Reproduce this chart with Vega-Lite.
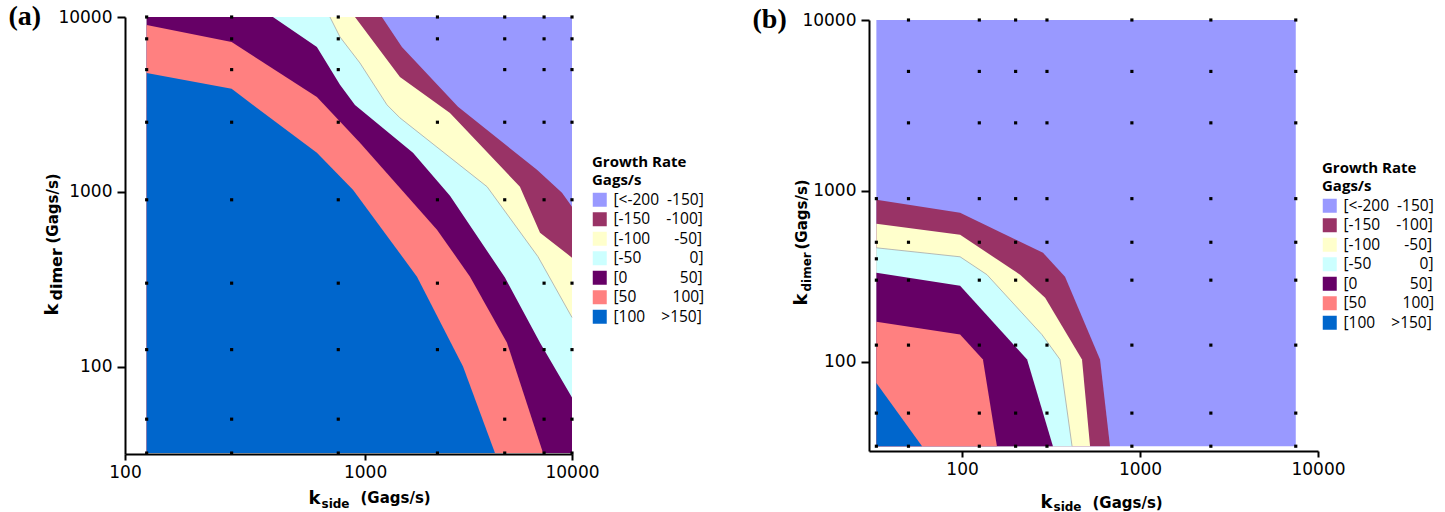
{
  "$schema": "https://vega.github.io/schema/vega-lite/v6.json",
  "background": "white",
  "padding": {"left": 8, "top": 2, "right": 0, "bottom": 0},
  "bounds": "flush",
  "spacing": 297,
  "config": {
    "view": {"stroke": null},
    "axis": {"grid": false, "domainColor": "black", "domainWidth": 2, "tickColor": "black", "tickWidth": 2, "labelFont": "DejaVu Sans", "labelFontSize": 17, "labelColor": "black", "labelFlush": false, "labelOverlap": false, "titleFont": "DejaVu Sans", "titleFontWeight": "bold", "titleColor": "black", "titleAlign": "left", "titleBaseline": "alphabetic"},
    "legend": {"orient": "none", "titleFont": "Open Sans", "titleFontSize": 15, "titleFontWeight": "bold", "titleLineHeight": 18, "titleColor": "black", "titlePadding": 4, "labelFont": "Open Sans", "labelFontSize": 15.5, "labelColor": "black", "labelOffset": 6, "symbolType": "square", "symbolSize": 196, "symbolStrokeWidth": 0, "rowPadding": 2.5, "padding": 0, "labelLimit": 300}
  },
  "datasets": {
    "a_bands": [
      {"band": "[<-200 -150]", "x": 125, "y": 10000}, {"band": "[<-200 -150]", "x": 10000, "y": 10000},
      {"band": "[-150 -100]", "x": 125, "y": 10000}, {"band": "[-150 -100]", "x": 1411, "y": 10000}, {"band": "[-150 -100]", "x": 1734, "y": 6737}, {"band": "[-150 -100]", "x": 3090, "y": 3062}, {"band": "[-150 -100]", "x": 6970, "y": 1336}, {"band": "[-150 -100]", "x": 9019, "y": 986}, {"band": "[-150 -100]", "x": 10000, "y": 820},
      {"band": "[-100 -50]", "x": 125, "y": 10000}, {"band": "[-100 -50]", "x": 1069, "y": 10000}, {"band": "[-100 -50]", "x": 1699, "y": 4541}, {"band": "[-100 -50]", "x": 2845, "y": 2827}, {"band": "[-100 -50]", "x": 5848, "y": 1069}, {"band": "[-100 -50]", "x": 7194, "y": 583}, {"band": "[-100 -50]", "x": 10000, "y": 420},
      {"band": "[-50 0]", "x": 125, "y": 10000}, {"band": "[-50 0]", "x": 826, "y": 10000}, {"band": "[-50 0]", "x": 916, "y": 7688}, {"band": "[-50 0]", "x": 1125, "y": 5458}, {"band": "[-50 0]", "x": 1487, "y": 3141}, {"band": "[-50 0]", "x": 1699, "y": 2648}, {"band": "[-50 0]", "x": 4169, "y": 1069}, {"band": "[-50 0]", "x": 7046, "y": 425}, {"band": "[-50 0]", "x": 10000, "y": 191},
      {"band": "[0 50]", "x": 125, "y": 10000}, {"band": "[0 50]", "x": 459, "y": 10000}, {"band": "[0 50]", "x": 722, "y": 6737}, {"band": "[0 50]", "x": 916, "y": 4100}, {"band": "[0 50]", "x": 1069, "y": 3141}, {"band": "[0 50]", "x": 1943, "y": 1670}, {"band": "[0 50]", "x": 2845, "y": 950}, {"band": "[0 50]", "x": 5012, "y": 323}, {"band": "[0 50]", "x": 7194, "y": 137}, {"band": "[0 50]", "x": 10000, "y": 66.5},
      {"band": "[50 100]", "x": 125, "y": 9000}, {"band": "[50 100]", "x": 300, "y": 7196}, {"band": "[50 100]", "x": 722, "y": 3491}, {"band": "[50 100]", "x": 1125, "y": 1905}, {"band": "[50 100]", "x": 2488, "y": 607}, {"band": "[50 100]", "x": 3497, "y": 327}, {"band": "[50 100]", "x": 5117, "y": 137}, {"band": "[50 100]", "x": 7420, "y": 32},
      {"band": "[100 >150]", "x": 125, "y": 4786}, {"band": "[100 >150]", "x": 300, "y": 3880}, {"band": "[100 >150]", "x": 374, "y": 3141}, {"band": "[100 >150]", "x": 722, "y": 1670}, {"band": "[100 >150]", "x": 1047, "y": 1027}, {"band": "[100 >150]", "x": 2025, "y": 327}, {"band": "[100 >150]", "x": 3254, "y": 100}, {"band": "[100 >150]", "x": 4522, "y": 32}
    ],
    "b_bands": [
      {"band": "[<-200 -150]", "x": 33, "y": 10000}, {"band": "[<-200 -150]", "x": 7500, "y": 10000},
      {"band": "[-150 -100]", "x": 33, "y": 886}, {"band": "[-150 -100]", "x": 97.5, "y": 744}, {"band": "[-150 -100]", "x": 285, "y": 434}, {"band": "[-150 -100]", "x": 379, "y": 314}, {"band": "[-150 -100]", "x": 596, "y": 103}, {"band": "[-150 -100]", "x": 678, "y": 32},
      {"band": "[-100 -50]", "x": 33, "y": 641}, {"band": "[-100 -50]", "x": 97.5, "y": 553}, {"band": "[-100 -50]", "x": 212, "y": 323}, {"band": "[-100 -50]", "x": 293, "y": 237}, {"band": "[-100 -50]", "x": 472, "y": 103}, {"band": "[-100 -50]", "x": 524, "y": 32},
      {"band": "[-50 0]", "x": 33, "y": 464}, {"band": "[-50 0]", "x": 97.5, "y": 411}, {"band": "[-50 0]", "x": 138, "y": 323}, {"band": "[-50 0]", "x": 281, "y": 144}, {"band": "[-50 0]", "x": 355, "y": 103}, {"band": "[-50 0]", "x": 415, "y": 32},
      {"band": "[0 50]", "x": 33, "y": 331}, {"band": "[0 50]", "x": 97.5, "y": 278}, {"band": "[0 50]", "x": 232, "y": 103}, {"band": "[0 50]", "x": 324, "y": 32},
      {"band": "[50 100]", "x": 33, "y": 171}, {"band": "[50 100]", "x": 97.5, "y": 144}, {"band": "[50 100]", "x": 131, "y": 103}, {"band": "[50 100]", "x": 157, "y": 32},
      {"band": "[100 >150]", "x": 33, "y": 75}, {"band": "[100 >150]", "x": 59.6, "y": 32}
    ],
    "a_dots": [
      {"x": 125, "y": 32}, {"x": 125, "y": 50}, {"x": 125, "y": 125}, {"x": 125, "y": 300}, {"x": 125, "y": 900}, {"x": 125, "y": 2500}, {"x": 125, "y": 5000}, {"x": 125, "y": 7500}, {"x": 125, "y": 10000},
      {"x": 300, "y": 32}, {"x": 300, "y": 50}, {"x": 300, "y": 125}, {"x": 300, "y": 300}, {"x": 300, "y": 900}, {"x": 300, "y": 2500}, {"x": 300, "y": 5000}, {"x": 300, "y": 7500}, {"x": 300, "y": 10000},
      {"x": 900, "y": 32}, {"x": 900, "y": 50}, {"x": 900, "y": 125}, {"x": 900, "y": 300}, {"x": 900, "y": 900}, {"x": 900, "y": 2500}, {"x": 900, "y": 5000}, {"x": 900, "y": 7500}, {"x": 900, "y": 10000},
      {"x": 2500, "y": 32}, {"x": 2500, "y": 125}, {"x": 2500, "y": 300}, {"x": 2500, "y": 900}, {"x": 2500, "y": 2500}, {"x": 2500, "y": 7500}, {"x": 2500, "y": 10000},
      {"x": 5000, "y": 32}, {"x": 5000, "y": 50}, {"x": 5000, "y": 125}, {"x": 5000, "y": 300}, {"x": 5000, "y": 900}, {"x": 5000, "y": 2500}, {"x": 5000, "y": 5000}, {"x": 5000, "y": 7500}, {"x": 5000, "y": 10000},
      {"x": 7500, "y": 32}, {"x": 7500, "y": 50}, {"x": 7500, "y": 125}, {"x": 7500, "y": 300}, {"x": 7500, "y": 900}, {"x": 7500, "y": 2500}, {"x": 7500, "y": 5000}, {"x": 7500, "y": 7500}, {"x": 7500, "y": 10000},
      {"x": 10000, "y": 32}, {"x": 10000, "y": 50}, {"x": 10000, "y": 125}, {"x": 10000, "y": 300}, {"x": 10000, "y": 900}, {"x": 10000, "y": 2500}, {"x": 10000, "y": 5000}, {"x": 10000, "y": 7500}, {"x": 10000, "y": 10000}
    ],
    "b_dots": [
      {"x": 33, "y": 32}, {"x": 50, "y": 32}, {"x": 125, "y": 32}, {"x": 200, "y": 32}, {"x": 300, "y": 32}, {"x": 900, "y": 32}, {"x": 2500, "y": 32}, {"x": 7500, "y": 32},
      {"x": 33, "y": 50}, {"x": 50, "y": 50}, {"x": 125, "y": 50}, {"x": 200, "y": 50}, {"x": 300, "y": 50}, {"x": 900, "y": 50}, {"x": 2500, "y": 50}, {"x": 7500, "y": 50},
      {"x": 33, "y": 125}, {"x": 50, "y": 125}, {"x": 125, "y": 125}, {"x": 200, "y": 125}, {"x": 300, "y": 125}, {"x": 900, "y": 125}, {"x": 2500, "y": 125}, {"x": 7500, "y": 125},
      {"x": 33, "y": 300}, {"x": 50, "y": 300}, {"x": 125, "y": 300}, {"x": 200, "y": 300}, {"x": 300, "y": 300}, {"x": 900, "y": 300}, {"x": 2500, "y": 300}, {"x": 7500, "y": 300},
      {"x": 33, "y": 400},
      {"x": 33, "y": 500}, {"x": 50, "y": 500}, {"x": 125, "y": 500}, {"x": 200, "y": 500}, {"x": 300, "y": 500}, {"x": 900, "y": 500}, {"x": 2500, "y": 500}, {"x": 7500, "y": 500},
      {"x": 33, "y": 900}, {"x": 50, "y": 900}, {"x": 125, "y": 900}, {"x": 200, "y": 900}, {"x": 300, "y": 900}, {"x": 900, "y": 900}, {"x": 2500, "y": 900}, {"x": 7500, "y": 900},
      {"x": 50, "y": 2500}, {"x": 125, "y": 2500}, {"x": 200, "y": 2500}, {"x": 300, "y": 2500}, {"x": 900, "y": 2500}, {"x": 2500, "y": 2500}, {"x": 7500, "y": 2500},
      {"x": 50, "y": 5000}, {"x": 125, "y": 5000}, {"x": 200, "y": 5000}, {"x": 300, "y": 5000}, {"x": 900, "y": 5000}, {"x": 2500, "y": 5000}, {"x": 7500, "y": 5000},
      {"x": 50, "y": 10000}, {"x": 125, "y": 10000}, {"x": 200, "y": 10000}, {"x": 300, "y": 10000}, {"x": 900, "y": 10000}, {"x": 2500, "y": 10000}, {"x": 7500, "y": 10000}
    ]
  },
  "hconcat": [
    {
      "width": 447,
      "height": 437,
      "layer": [
        {
          "data": {"name": "a_bands"},
          "mark": {"type": "area", "opacity": 1, "strokeWidth": 0},
          "encoding": {
            "x": {"field": "x", "type": "quantitative", "scale": {"type": "log", "domain": [100, 10000], "nice": false},
              "axis": {"orient": "bottom", "values": [100, 1186, 10000], "labelExpr": "datum.value > 1100 && datum.value < 1300 ? '1000' : format(datum.value, 'd')", "tickSize": 6, "labelPadding": 4, "title": "k", "titleX": 183, "titleY": 49, "titleFontSize": 18}},
            "y": {"field": "y", "type": "quantitative", "stack": null, "scale": {"type": "log", "domain": [31.6, 10000], "nice": false},
              "axis": {"orient": "left", "values": [100, 1000, 10000], "format": "d", "tickSize": 8, "labelPadding": 5, "title": "k", "titleX": -68, "titleY": 298, "titleFontSize": 18}},
            "y2": {"datum": 32},
            "color": {"field": "band", "type": "nominal",
              "scale": {"domain": ["[<-200 -150]", "[-150 -100]", "[-100 -50]", "[-50 0]", "[0 50]", "[50 100]", "[100 >150]"], "range": ["#9999FF", "#993366", "#FFFFCC", "#CCFFFF", "#660066", "#FF8080", "#0066CC"]},
              "legend": {"title": ["Growth Rate", "Gags/s"], "legendX": 467, "legendY": 138,
                "labelExpr": "datum.label == '[<-200 -150]' ? '[<-200\u00a0\u00a0-150]' : datum.label == '[-150 -100]' ? '[-150\u00a0\u00a0\u00a0\u00a0-100]' : datum.label == '[-100 -50]' ? '[-100\u00a0\u00a0\u00a0\u00a0\u00a0\u00a0-50]' : datum.label == '[-50 0]' ? '[-50\u00a0\u00a0\u00a0\u00a0\u00a0\u00a0\u00a0\u00a0\u00a0\u00a0\u00a0\u00a00]' : datum.label == '[0 50]' ? '[0\u00a0\u00a0\u00a0\u00a0\u00a0\u00a0\u00a0\u00a0\u00a0\u00a0\u00a0\u00a0\u00a050]' : datum.label == '[50 100]' ? '[50\u00a0\u00a0\u00a0\u00a0\u00a0\u00a0\u00a0\u00a0\u00a0100]' : '[100\u00a0\u00a0\u00a0\u00a0>150]'"}}
          }
        },
        {
          "data": {"name": "a_bands"},
          "transform": [{"filter": "datum.band == '[-50 0]' && datum.x > 125"}],
          "mark": {"type": "line", "color": "#a8a8a8", "strokeWidth": 0.8},
          "encoding": {
            "x": {"field": "x", "type": "quantitative", "axis": {"orient": "bottom", "domain": false, "ticks": false, "labels": false, "title": "side", "titleX": 196, "titleY": 53, "titleFontSize": 12}},
            "y": {"field": "y", "type": "quantitative", "axis": {"orient": "left", "domain": false, "ticks": false, "labels": false, "title": "dimer", "titleX": -64, "titleY": 283, "titleFontSize": 16}}
          }
        },
        {
          "data": {"name": "a_dots"},
          "mark": {"type": "square", "size": 10, "color": "black", "opacity": 1},
          "encoding": {
            "x": {"field": "x", "type": "quantitative", "axis": {"orient": "bottom", "domain": false, "ticks": false, "labels": false, "title": "(Gags/s)", "titleX": 235, "titleY": 48, "titleFontSize": 15}},
            "y": {"field": "y", "type": "quantitative", "axis": {"orient": "left", "domain": false, "ticks": false, "labels": false, "title": "(Gags/s)", "titleX": -68, "titleY": 226, "titleFontSize": 15}}
          }
        },
        {
          "data": {"name": "a_dots"},
          "mark": {"type": "point", "opacity": 0},
          "encoding": {
            "x": {"field": "x", "type": "quantitative", "axis": null},
            "y": {"field": "y", "type": "quantitative", "axis": {"orient": "left", "domain": false, "ticks": false, "labels": false, "title": "(a)", "titleX": -117, "titleY": -15, "titleAngle": 0, "titleBaseline": "top", "titleFont": "Liberation Serif", "titleFontSize": 28}}
          }
        }
      ],
      "resolve": {"axis": {"x": "independent", "y": "independent"}}
    },
    {
      "width": 449,
      "height": 434,
      "layer": [
        {
          "data": {"name": "b_bands"},
          "mark": {"type": "area", "opacity": 1, "strokeWidth": 0},
          "encoding": {
            "x": {"field": "x", "type": "quantitative", "scale": {"type": "log", "domain": [30, 10000], "nice": false},
              "axis": {"orient": "bottom", "values": [100, 1000, 10000], "format": "d", "tickSize": 6, "labelPadding": 4, "title": "k", "titleX": 171, "titleY": 56, "titleFontSize": 18}},
            "y": {"field": "y", "type": "quantitative", "stack": null, "scale": {"type": "log", "domain": [30, 10000], "nice": false, "range": [434, 3]},
              "axis": {"orient": "left", "values": [100, 1000, 10000], "format": "d", "tickSize": 8, "labelPadding": 5, "title": "k", "titleX": -63, "titleY": 288, "titleFontSize": 18}},
            "y2": {"datum": 32},
            "color": {"field": "band", "type": "nominal",
              "scale": {"domain": ["[<-200 -150]", "[-150 -100]", "[-100 -50]", "[-50 0]", "[0 50]", "[50 100]", "[100 >150]"], "range": ["#9999FF", "#993366", "#FFFFCC", "#CCFFFF", "#660066", "#FF8080", "#0066CC"]},
              "legend": {"title": ["Growth Rate", "Gags/s"], "legendX": 453, "legendY": 144,
                "labelExpr": "datum.label == '[<-200 -150]' ? '[<-200\u00a0\u00a0-150]' : datum.label == '[-150 -100]' ? '[-150\u00a0\u00a0\u00a0\u00a0-100]' : datum.label == '[-100 -50]' ? '[-100\u00a0\u00a0\u00a0\u00a0\u00a0\u00a0-50]' : datum.label == '[-50 0]' ? '[-50\u00a0\u00a0\u00a0\u00a0\u00a0\u00a0\u00a0\u00a0\u00a0\u00a0\u00a0\u00a00]' : datum.label == '[0 50]' ? '[0\u00a0\u00a0\u00a0\u00a0\u00a0\u00a0\u00a0\u00a0\u00a0\u00a0\u00a0\u00a0\u00a050]' : datum.label == '[50 100]' ? '[50\u00a0\u00a0\u00a0\u00a0\u00a0\u00a0\u00a0\u00a0\u00a0100]' : '[100\u00a0\u00a0\u00a0\u00a0>150]'"}}
          }
        },
        {
          "data": {"name": "b_bands"},
          "transform": [{"filter": "datum.band == '[-50 0]'"}],
          "mark": {"type": "line", "color": "#a8a8a8", "strokeWidth": 0.8},
          "encoding": {
            "x": {"field": "x", "type": "quantitative", "axis": {"orient": "bottom", "domain": false, "ticks": false, "labels": false, "title": "side", "titleX": 184, "titleY": 59, "titleFontSize": 12}},
            "y": {"field": "y", "type": "quantitative", "axis": {"orient": "left", "domain": false, "ticks": false, "labels": false, "title": "dimer", "titleX": -59, "titleY": 274, "titleFontSize": 12}}
          }
        },
        {
          "data": {"name": "b_dots"},
          "mark": {"type": "square", "size": 10, "color": "black", "opacity": 1},
          "encoding": {
            "x": {"field": "x", "type": "quantitative", "axis": {"orient": "bottom", "domain": false, "ticks": false, "labels": false, "title": "(Gags/s)", "titleX": 223, "titleY": 56, "titleFontSize": 15}},
            "y": {"field": "y", "type": "quantitative", "axis": {"orient": "left", "domain": false, "ticks": false, "labels": false, "title": "(Gags/s)", "titleX": -63, "titleY": 232, "titleFontSize": 15}}
          }
        },
        {
          "data": {"name": "b_dots"},
          "mark": {"type": "point", "opacity": 0},
          "encoding": {
            "x": {"field": "x", "type": "quantitative", "axis": null},
            "y": {"field": "y", "type": "quantitative", "axis": {"orient": "left", "domain": false, "ticks": false, "labels": false, "title": "(b)", "titleX": -117, "titleY": -12, "titleAngle": 0, "titleBaseline": "top", "titleFont": "Liberation Serif", "titleFontSize": 28}}
          }
        }
      ],
      "resolve": {"axis": {"x": "independent", "y": "independent"}}
    }
  ],
  "resolve": {"scale": {"color": "independent"}, "legend": {"color": "independent"}}
}
